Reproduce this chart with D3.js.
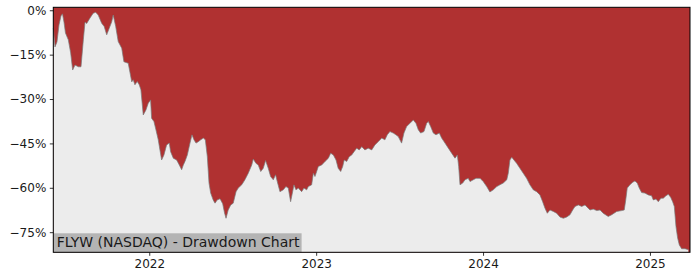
<!DOCTYPE html>
<html>
<head>
<meta charset="utf-8">
<script src="https://cdn.jsdelivr.net/npm/d3@7"></script>
<style>
  body { margin: 0; background: #fff; }
  svg text { font-family: "DejaVu Sans", sans-serif; }
</style>
</head>
<body>
<div id="chart"></div>
<script>
const FRAME_WIDTH = 700;
const FRAME_HEIGHT = 280;
const MARGINS = { left: 53.3, right: 10, top: 7.3, bottom: 27.7 };

const TITLE = "FLYW (NASDAQ) - Drawdown Chart";
const yTicks = [0, -15, -30, -45, -60, -75];
const xTicks = [2022, 2023, 2024, 2025];

// dates as decimal years
const dates = [
  2021.425, 2021.435, 2021.447, 2021.459, 2021.471, 2021.480, 2021.489, 2021.498, 2021.515, 2021.529,
  2021.541, 2021.555, 2021.575, 2021.591, 2021.605, 2021.615, 2021.625, 2021.645, 2021.664, 2021.679,
  2021.694, 2021.715, 2021.730, 2021.745, 2021.760, 2021.775, 2021.784, 2021.799, 2021.814, 2021.835,
  2021.848, 2021.874, 2021.895, 2021.904, 2021.914, 2021.928, 2021.940, 2021.950, 2021.964, 2021.980,
  2021.994, 2022.008, 2022.014, 2022.028, 2022.040, 2022.054, 2022.064, 2022.074, 2022.088, 2022.104,
  2022.120, 2022.128, 2022.144, 2022.164, 2022.180, 2022.194, 2022.204, 2022.214, 2022.228, 2022.244,
  2022.256, 2022.268, 2022.280, 2022.294, 2022.308, 2022.324, 2022.336, 2022.348, 2022.358, 2022.368,
  2022.383, 2022.394, 2022.407, 2022.424, 2022.440, 2022.451, 2022.460, 2022.473, 2022.488, 2022.503,
  2022.520, 2022.533, 2022.554, 2022.573, 2022.593, 2022.614, 2022.623, 2022.639, 2022.653, 2022.668,
  2022.683, 2022.697, 2022.713, 2022.727, 2022.743, 2022.757, 2022.767, 2022.783, 2022.803, 2022.819,
  2022.833, 2022.847, 2022.859, 2022.867, 2022.879, 2022.893, 2022.913, 2022.927, 2022.943, 2022.953,
  2022.973, 2022.983, 2022.993, 2023.013, 2023.033, 2023.053, 2023.073, 2023.087, 2023.103, 2023.119,
  2023.132, 2023.147, 2023.159, 2023.168, 2023.183, 2023.198, 2023.213, 2023.227, 2023.243, 2023.258,
  2023.273, 2023.292, 2023.312, 2023.333, 2023.352, 2023.372, 2023.393, 2023.412, 2023.426, 2023.442,
  2023.462, 2023.478, 2023.492, 2023.512, 2023.526, 2023.542, 2023.562, 2023.582, 2023.598, 2023.612,
  2023.626, 2023.646, 2023.662, 2023.672, 2023.686, 2023.702, 2023.718, 2023.738, 2023.752, 2023.772,
  2023.792, 2023.812, 2023.832, 2023.846, 2023.854, 2023.862, 2023.878, 2023.892, 2023.911, 2023.922,
  2023.941, 2023.958, 2023.982, 2024.001, 2024.022, 2024.041, 2024.061, 2024.082, 2024.101, 2024.121,
  2024.142, 2024.151, 2024.161, 2024.172, 2024.185, 2024.201, 2024.221, 2024.241, 2024.261, 2024.281,
  2024.301, 2024.321, 2024.341, 2024.357, 2024.371, 2024.385, 2024.401, 2024.421, 2024.441, 2024.461,
  2024.481, 2024.501, 2024.521, 2024.537, 2024.551, 2024.571, 2024.591, 2024.611, 2024.630, 2024.641,
  2024.660, 2024.681, 2024.701, 2024.720, 2024.750, 2024.771, 2024.801, 2024.831, 2024.846, 2024.855,
  2024.864, 2024.880, 2024.897, 2024.910, 2024.924, 2024.936, 2024.950, 2024.970, 2024.990, 2025.010,
  2025.020, 2025.036, 2025.050, 2025.066, 2025.080, 2025.096, 2025.110, 2025.124, 2025.136, 2025.146,
  2025.156, 2025.166, 2025.176, 2025.190, 2025.210, 2025.230
];

// drawdown in percent
const drawdown = [
  -6.0, -12.4, -10.7, -5.0, -1.9, -1.2, -4.0, -7.7, -10.0, -14.4,
  -20.2, -18.5, -19.1, -19.1, -10.0, -4.0, -4.5, -2.6, -1.0, -0.7,
  -1.6, -4.4, -5.5, -8.3, -6.1, -3.9, -1.6, -5.5, -10.6, -12.8,
  -17.4, -17.9, -24.2, -23.5, -25.2, -24.1, -25.2, -26.9, -35.4, -33.7,
  -31.4, -30.3, -36.5, -37.6, -40.4, -43.8, -47.2, -50.6, -48.9, -45.5,
  -44.9, -47.8, -50.0, -50.6, -52.3, -53.9, -52.3, -51.1, -48.9, -44.9,
  -42.1, -43.8, -44.9, -44.4, -43.8, -43.2, -43.8, -49.5, -58.4, -61.8,
  -64.1, -65.2, -64.1, -63.7, -65.4, -68.5, -70.3, -67.5, -65.8, -65.2,
  -61.3, -60.1, -59.0, -57.3, -55.1, -52.3, -50.3, -51.7, -52.3, -54.5,
  -53.4, -50.8, -53.4, -56.2, -57.3, -55.6, -57.9, -61.3, -60.7, -59.6,
  -60.1, -64.7, -61.3, -59.0, -60.7, -60.1, -61.3, -60.1, -60.7, -59.6,
  -59.0, -55.1, -56.2, -52.8, -52.3, -51.1, -50.0, -48.3, -48.9, -50.6,
  -53.4, -54.5, -52.8, -50.6, -51.1, -49.5, -48.9, -47.8, -46.6, -47.2,
  -46.1, -47.2, -46.6, -47.2, -45.5, -44.4, -43.2, -43.8, -42.1, -41.0,
  -41.5, -42.1, -42.7, -44.9, -41.5, -39.3, -38.2, -37.1, -38.2, -40.4,
  -41.5, -41.0, -38.2, -37.6, -39.3, -41.5, -42.1, -41.5, -43.2, -44.9,
  -46.6, -48.3, -50.0, -48.9, -52.8, -59.0, -58.4, -57.3, -56.8, -57.9,
  -57.3, -56.8, -56.8, -57.9, -59.6, -61.4, -60.7, -59.6, -59.0, -58.4,
  -57.3, -55.1, -50.6, -49.7, -50.6, -51.7, -53.4, -55.1, -56.8, -59.0,
  -60.7, -61.3, -62.4, -64.7, -66.9, -68.6, -67.5, -68.0, -68.6, -69.9,
  -70.3, -69.9, -69.1, -67.5, -66.3, -65.8, -66.3, -65.8, -66.9, -67.5,
  -67.2, -67.7, -67.5, -68.6, -69.7, -69.1, -68.0, -67.7, -67.5, -64.1,
  -60.1, -59.0, -58.1, -57.7, -58.4, -60.1, -61.6, -61.8, -62.4, -62.7,
  -64.1, -63.8, -64.7, -63.5, -63.5, -62.7, -62.2, -63.2, -64.7, -66.3,
  -73.1, -77.0, -79.3, -80.6, -80.6, -80.9
];

const data = dates.map((d, i) => ({ date: d, value: drawdown[i] }));

let plot_width = FRAME_WIDTH - MARGINS.left - MARGINS.right;
let plot_height = FRAME_HEIGHT - MARGINS.top - MARGINS.bottom;

let svg = d3.select("#chart")
  .append("svg")
  .attr("width", FRAME_WIDTH)
  .attr("height", FRAME_HEIGHT);

let g = svg.append("g")
  .attr("transform", "translate(" + MARGINS.left + "," + MARGINS.top + ")");

let x = d3.scaleLinear()
  .domain([2021.425, 2025.24])
  .range([0, plot_width]);

let y = d3.scaleLinear()
  .domain([-81.8, 1])
  .range([plot_height, 0]);

// red background above the curve
g.append("rect")
  .attr("width", plot_width)
  .attr("height", plot_height)
  .attr("fill", "#b03131");

let area = d3.area()
  .x(d => x(d.date))
  .y0(plot_height)
  .y1(d => y(d.value));

g.append("path")
  .datum(data)
  .attr("d", area)
  .attr("fill", "#ececec");

g.append("path")
  .datum(data)
  .attr("d", d3.line().x(d => x(d.date)).y(d => y(d.value)))
  .attr("fill", "none")
  .attr("stroke", "#7a7a7a")
  .attr("stroke-width", 0.7);

// axes
let fmt = d => (d < 0 ? "\u2212" : "") + Math.abs(d) + "%";

let yAxis = g.append("g")
  .call(d3.axisLeft(y).tickValues(yTicks).tickFormat(fmt).tickSize(3.5).tickPadding(3.5));

let xAxis = g.append("g")
  .attr("transform", "translate(0," + plot_height + ")")
  .call(d3.axisBottom(x).tickValues(xTicks).tickFormat(d3.format("d")).tickSize(3.5).tickPadding(3.5));

[yAxis, xAxis].forEach(a => {
  a.select(".domain").remove();
  a.selectAll("text").style("font-size", "12px").attr("fill", "#1a1a1a")
    .style("font-family", "'DejaVu Sans', sans-serif");
  a.selectAll("line").attr("stroke", "#000").attr("stroke-width", 0.8);
});

// label box
let label = g.append("g");
let lbl_bg = label.append("rect")
  .attr("fill", "#b4b4b4");
let lbl = label.append("text")
  .attr("x", 3.4)
  .attr("y", plot_height - 5.4)
  .style("font-size", "14px")
  .attr("fill", "#1a1a1a")
  .text(TITLE);
let tw = lbl.node().getComputedTextLength();
lbl_bg.attr("x", 0)
  .attr("y", plot_height - 19)
  .attr("width", tw + 5.5)
  .attr("height", 19);

// frame
g.append("rect")
  .attr("width", plot_width)
  .attr("height", plot_height)
  .attr("fill", "none")
  .attr("stroke", "#000")
  .attr("stroke-width", 1);
</script>
</body>
</html>
